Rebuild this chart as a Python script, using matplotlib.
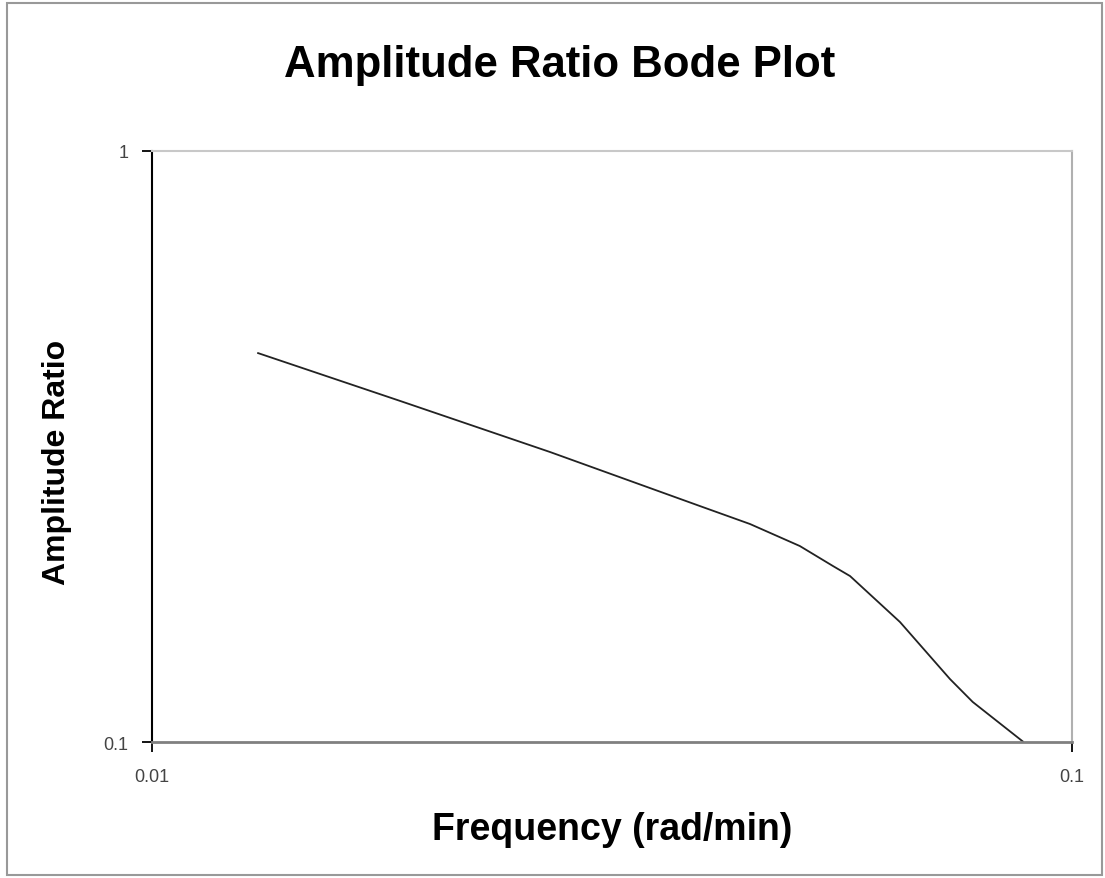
import matplotlib
matplotlib.use('Agg')
import matplotlib.pyplot as plt
from matplotlib.patches import Rectangle

# Bode data
freq = [0.01304, 0.01861, 0.02708, 0.03942, 0.04467, 0.0506, 0.05498, 0.05738,
        0.06502, 0.07369, 0.0780, 0.08844]
amp_ratio = [0.455, 0.3776, 0.3095, 0.2507, 0.2338, 0.2146, 0.1985, 0.1909,
             0.1596, 0.1278, 0.1169, 0.1002]
x_ticks = [0.01, 0.1]
y_ticks = [0.1, 1]
tick_labels_x = ['0.01', '0.1']
tick_labels_y = ['0.1', '1']

plt.rcParams['font.family'] = ['Liberation Sans', 'DejaVu Sans']

fig = plt.figure(figsize=(11.05, 8.79), dpi=100)
ax = fig.add_axes([0.1376, 0.1547, 0.8325, 0.6724])

ax.plot(freq, amp_ratio, color='#222222', lw=1.3)

ax.set_xscale('log')
ax.set_yscale('log')
ax.set_xlim(0.01, 0.1)
ax.set_ylim(0.1, 1)
ax.set_xticks(x_ticks)
ax.set_xticklabels(tick_labels_x)
ax.set_yticks(y_ticks)
ax.set_yticklabels(tick_labels_y)
ax.minorticks_off()
ax.tick_params(axis='both', length=7, width=1.3, color='black',
               labelsize=13, labelcolor='#444444')
ax.tick_params(axis='x', pad=12)
ax.tick_params(axis='y', pad=10)

ax.spines['left'].set_color('black')
ax.spines['left'].set_linewidth(1.5)
ax.spines['bottom'].set_color('#808080')
ax.spines['bottom'].set_linewidth(2)
ax.spines['top'].set_color('#c8c8c8')
ax.spines['top'].set_linewidth(1.5)
ax.spines['right'].set_color('#b0b0b0')
ax.spines['right'].set_linewidth(1.5)

ax.set_xlabel('Frequency (rad/min)', fontsize=27, fontweight='bold', va='center')
ax.xaxis.set_label_coords(0.5, -0.147)
ax.set_ylabel('Amplitude Ratio', fontsize=23, fontweight='bold', va='center')
ax.yaxis.set_label_coords(-0.1033, 0.475)
fig.text(0.506, 1 - 65 / 879, 'Amplitude Ratio Bode Plot', fontsize=31.5,
         fontweight='bold', ha='center', va='center')

# outer chart border
fig.patches.append(Rectangle((7 / 1105, 3 / 879), 1095 / 1105, 872 / 879,
                             transform=fig.transFigure, fill=False,
                             edgecolor='#999999', lw=1.5))

fig.savefig('out.png', dpi=100)
